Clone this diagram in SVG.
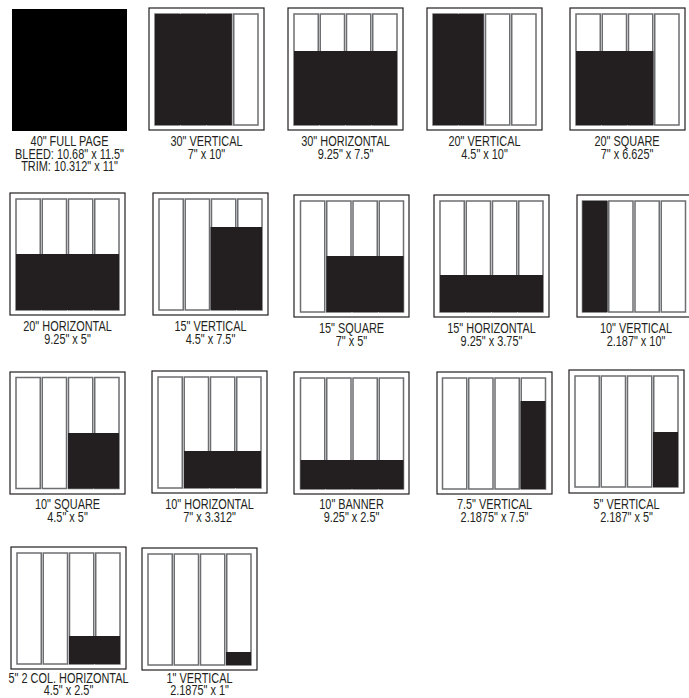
<svg xmlns="http://www.w3.org/2000/svg" width="689" height="698" viewBox="0 0 689 698">
<defs>
<style>
.frame{fill:#fff;stroke:#231f20;stroke-width:1.2}
.col{fill:#fff;stroke:#6d6e71;stroke-width:1.5}
.ad{fill:#231f20}
.lbl{font-family:"Liberation Sans",Arial,sans-serif;font-size:14px;fill:#231f20;text-anchor:middle}
</style>
<g id="cols">
<rect class="col" x="0" y="0" width="24.25" height="111"/>
<rect class="col" x="26.25" y="0" width="24.25" height="111"/>
<rect class="col" x="52.5" y="0" width="24.25" height="111"/>
<rect class="col" x="78.75" y="0" width="24.25" height="111"/>
</g>
</defs>
<rect width="689" height="698" fill="#fff"/>

<g id="full-page">
<rect x="12" y="9" width="115" height="122" fill="#000"/>
<text class="lbl" transform="translate(69.5 146) scale(0.78 1)">40" FULL PAGE</text>
<text class="lbl" transform="translate(69.5 158.5) scale(0.78 1)">BLEED: 10.68" x 11.5"</text>
<text class="lbl" transform="translate(69.5 171) scale(0.78 1)">TRIM: 10.312" x 11"</text>
</g>

<g id="v30">
<rect class="frame" x="149" y="8" width="115" height="122"/>
<use href="#cols" x="155" y="14"/>
<rect class="ad" x="155" y="14" width="76.75" height="111"/>
<text class="lbl" transform="translate(206.5 146) scale(0.78 1)">30" VERTICAL</text>
<text class="lbl" transform="translate(206.5 158.5) scale(0.78 1)">7" x 10"</text>
</g>

<g id="h30">
<rect class="frame" x="288" y="8" width="115" height="122"/>
<use href="#cols" x="294" y="14"/>
<rect class="ad" x="294" y="51" width="103" height="74"/>
<text class="lbl" transform="translate(345.5 146) scale(0.78 1)">30" HORIZONTAL</text>
<text class="lbl" transform="translate(345.5 158.5) scale(0.78 1)">9.25" x 7.5"</text>
</g>

<g id="v20">
<rect class="frame" x="427" y="8" width="115" height="122"/>
<use href="#cols" x="433" y="14"/>
<rect class="ad" x="433" y="14" width="50.5" height="111"/>
<text class="lbl" transform="translate(484.5 146) scale(0.78 1)">20" VERTICAL</text>
<text class="lbl" transform="translate(484.5 158.5) scale(0.78 1)">4.5" x 10"</text>
</g>

<g id="sq20">
<rect class="frame" x="570" y="8" width="115" height="122"/>
<use href="#cols" x="576" y="14"/>
<rect class="ad" x="576" y="51" width="77.5" height="74"/>
<text class="lbl" transform="translate(627 146) scale(0.78 1)">20" SQUARE</text>
<text class="lbl" transform="translate(627 158.5) scale(0.78 1)">7" x 6.625"</text>
</g>

<g id="h20">
<rect class="frame" x="10" y="193" width="115" height="122"/>
<use href="#cols" x="16" y="199"/>
<rect class="ad" x="16" y="254" width="103" height="56"/>
<text class="lbl" transform="translate(67.5 331) scale(0.78 1)">20" HORIZONTAL</text>
<text class="lbl" transform="translate(67.5 343.5) scale(0.78 1)">9.25" x 5"</text>
</g>

<g id="v15">
<rect class="frame" x="153" y="193" width="115" height="122"/>
<use href="#cols" x="159" y="199"/>
<rect class="ad" x="210.5" y="227" width="51.5" height="83"/>
<text class="lbl" transform="translate(210.5 331) scale(0.78 1)">15" VERTICAL</text>
<text class="lbl" transform="translate(210.5 343.5) scale(0.78 1)">4.5" x 7.5"</text>
</g>

<g id="sq15">
<rect class="frame" x="294" y="195" width="115" height="122"/>
<use href="#cols" x="300.5" y="201"/>
<rect class="ad" x="326.5" y="256" width="77" height="56"/>
<text class="lbl" transform="translate(351.5 333) scale(0.78 1)">15" SQUARE</text>
<text class="lbl" transform="translate(351.5 345.5) scale(0.78 1)">7" x 5"</text>
</g>

<g id="h15">
<rect class="frame" x="434" y="195" width="115" height="122"/>
<use href="#cols" x="440" y="201"/>
<rect class="ad" x="440" y="275" width="103" height="37"/>
<text class="lbl" transform="translate(491.5 333) scale(0.78 1)">15" HORIZONTAL</text>
<text class="lbl" transform="translate(491.5 345.5) scale(0.78 1)">9.25" x 3.75"</text>
</g>

<g id="v10">
<rect class="frame" x="577" y="195" width="115" height="122"/>
<use href="#cols" x="582.5" y="201"/>
<rect class="ad" x="582.5" y="201" width="25" height="111"/>
<text class="lbl" transform="translate(636 333) scale(0.78 1)">10" VERTICAL</text>
<text class="lbl" transform="translate(636 345.5) scale(0.78 1)">2.187" x 10"</text>
</g>

<g id="sq10">
<rect class="frame" x="10" y="372" width="115" height="122"/>
<use href="#cols" x="16" y="377.5"/>
<rect class="ad" x="68" y="433" width="51" height="55.5"/>
<text class="lbl" transform="translate(67.5 509) scale(0.78 1)">10" SQUARE</text>
<text class="lbl" transform="translate(67.5 521.5) scale(0.78 1)">4.5" x 5"</text>
</g>

<g id="h10">
<rect class="frame" x="152" y="371" width="115" height="122"/>
<use href="#cols" x="158" y="377"/>
<rect class="ad" x="184" y="451" width="77" height="37"/>
<text class="lbl" transform="translate(209.5 509) scale(0.78 1)">10" HORIZONTAL</text>
<text class="lbl" transform="translate(209.5 521.5) scale(0.78 1)">7" x 3.312"</text>
</g>

<g id="banner10">
<rect class="frame" x="294" y="372" width="115" height="122"/>
<use href="#cols" x="300.5" y="378"/>
<rect class="ad" x="300.5" y="460" width="103" height="29"/>
<text class="lbl" transform="translate(351.5 509) scale(0.78 1)">10" BANNER</text>
<text class="lbl" transform="translate(351.5 521.5) scale(0.78 1)">9.25" x 2.5"</text>
</g>

<g id="v7-5">
<rect class="frame" x="437" y="372" width="115" height="122"/>
<use href="#cols" x="442.5" y="378"/>
<rect class="ad" x="520.5" y="401" width="25" height="88"/>
<text class="lbl" transform="translate(494.5 509) scale(0.78 1)">7.5" VERTICAL</text>
<text class="lbl" transform="translate(494.5 521.5) scale(0.78 1)">2.1875" x 7.5"</text>
</g>

<g id="v5">
<rect class="frame" x="569" y="370" width="115" height="123"/>
<use href="#cols" x="575" y="376"/>
<rect class="ad" x="653" y="432" width="25" height="55"/>
<text class="lbl" transform="translate(626.5 509) scale(0.78 1)">5" VERTICAL</text>
<text class="lbl" transform="translate(626.5 521.5) scale(0.78 1)">2.187" x 5"</text>
</g>

<g id="h5-2col">
<rect class="frame" x="11" y="547" width="115" height="122"/>
<use href="#cols" x="17" y="553"/>
<rect class="ad" x="69" y="636" width="51" height="28"/>
<text class="lbl" transform="translate(68.5 682.5) scale(0.78 1)">5" 2 COL. HORIZONTAL</text>
<text class="lbl" transform="translate(68.5 695) scale(0.78 1)">4.5" x 2.5"</text>
</g>

<g id="v1">
<rect class="frame" x="142" y="548" width="115" height="122"/>
<use href="#cols" x="148" y="554"/>
<rect class="ad" x="226" y="652" width="25" height="13"/>
<text class="lbl" transform="translate(199.5 682.5) scale(0.78 1)">1" VERTICAL</text>
<text class="lbl" transform="translate(199.5 695) scale(0.78 1)">2.1875" x 1"</text>
</g>

<g id="connectors"/>
</svg>
